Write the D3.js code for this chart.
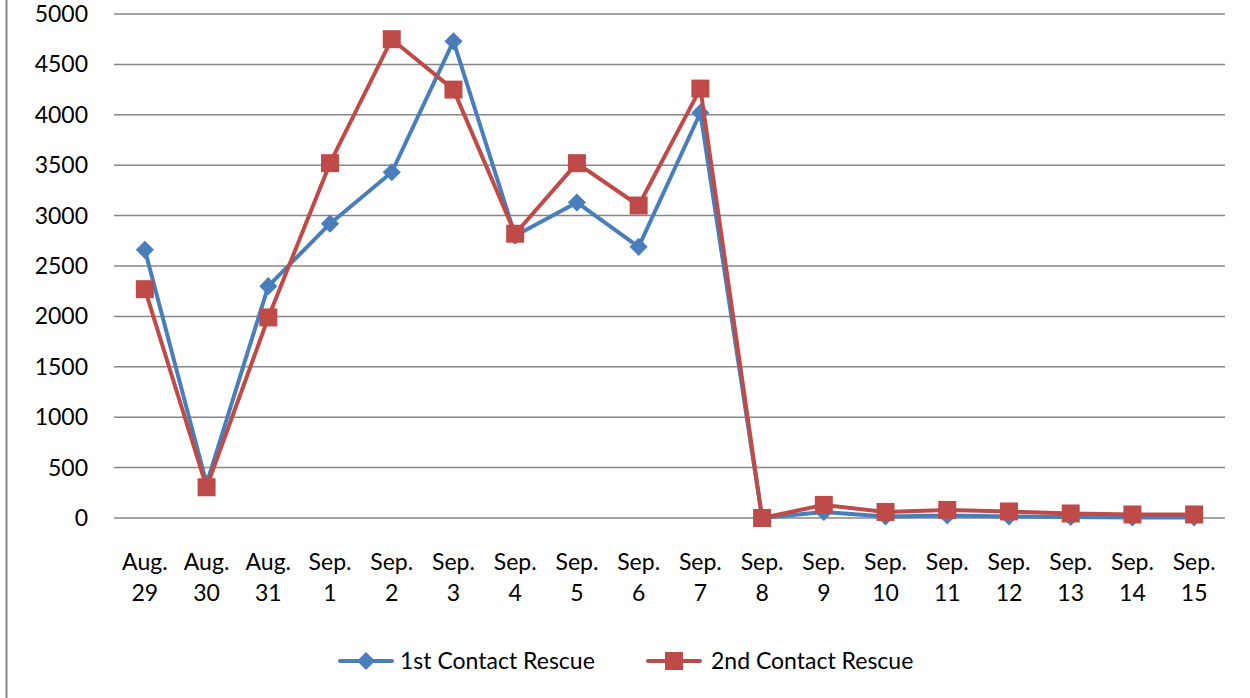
<!DOCTYPE html>
<html>
<head>
<meta charset="UTF-8">
<script src="https://d3js.org/d3.v7.min.js"></script>
<style>
body { margin: 0; background: #fff; }
text { font-family: Lato, "Open Sans", sans-serif; fill: #000; }
</style>
</head>
<body>
<div id="chart"></div>
<script>
// data
var months = ["Aug.", "Aug.", "Aug.", "Sep.", "Sep.", "Sep.", "Sep.", "Sep.", "Sep.", "Sep.", "Sep.", "Sep.", "Sep.", "Sep.", "Sep.", "Sep.", "Sep.", "Sep."];
var days = ["29", "30", "31", "1", "2", "3", "4", "5", "6", "7", "8", "9", "10", "11", "12", "13", "14", "15"];
var firstContact = [2660, 340, 2300, 2920, 3430, 4730, 2800, 3130, 2690, 4020, 0, 60, 15, 25, 15, 10, 5, 5];
var secondContact = [2270, 305, 1990, 3520, 4750, 4250, 2820, 3520, 3100, 4260, 0, 130, 60, 80, 65, 45, 35, 35];
var yTicks = [0, 500, 1000, 1500, 2000, 2500, 3000, 3500, 4000, 4500, 5000];
var seriesNames = ["1st Contact Rescue", "2nd Contact Rescue"];

var W = 1250, H = 698;
var margin = {top: 14, left: 114, right: 25, bottom: 180};
var width = W - margin.left - margin.right;
var height = H - margin.top - margin.bottom;
var fs = "23px";

var svg = d3.select("#chart").append("svg")
    .attr("width", W)
    .attr("height", H);

// left frame edge
svg.append("line")
    .attr("x1", 6.5).attr("x2", 6.5)
    .attr("y1", 0).attr("y2", H)
    .attr("stroke", "#868686").attr("stroke-width", 2);

var g = svg.append("g")
    .attr("transform", "translate(" + margin.left + "," + margin.top + ")");

var x = d3.scaleBand()
    .domain(d3.range(days.length))
    .range([0, width]);

var y = d3.scaleLinear()
    .domain([0, 5000])
    .range([height, 0]);

// gridlines
g.selectAll(".grid")
    .data(yTicks)
    .enter().append("line")
    .attr("x1", 0).attr("x2", width)
    .attr("y1", function(d) { return y(d); })
    .attr("y2", function(d) { return y(d); })
    .attr("stroke", "#868686")
    .attr("stroke-width", 1.5);

// y labels
g.selectAll(".ylab")
    .data(yTicks)
    .enter().append("text")
    .attr("x", -26)
    .attr("y", function(d) { return y(d); })
    .attr("dy", "0.35em")
    .attr("text-anchor", "end")
    .style("font-size", fs)
    .text(function(d) { return d; });

// x labels
var xl = g.selectAll(".xlab")
    .data(days)
    .enter().append("text")
    .attr("text-anchor", "middle")
    .style("font-size", fs)
    .attr("transform", function(d, i) { return "translate(" + (x(i) + x.bandwidth() / 2) + "," + (height + 52) + ")"; });
xl.append("tspan").attr("x", 0).attr("y", 0).text(function(d, i) { return months[i]; });
xl.append("tspan").attr("x", 0).attr("y", 31).text(function(d) { return d; });

var colors = ["#4a7ebb", "#be4b48"];
var line = d3.line()
    .x(function(d, i) { return x(i) + x.bandwidth() / 2; })
    .y(function(d) { return y(d); });

var diamond = d3.symbol().type(d3.symbolDiamond2).size(210);

function drawSeries(vals, k) {
    g.append("path")
        .datum(vals)
        .attr("fill", "none")
        .attr("stroke", colors[k])
        .attr("stroke-width", 4)
        .attr("stroke-linejoin", "round")
        .attr("d", line);
    var m = g.selectAll(".m" + k)
        .data(vals)
        .enter();
    if (k === 0) {
        m.append("path")
            .attr("d", diamond())
            .attr("fill", colors[k])
            .attr("transform", function(d, i) { return "translate(" + (x(i) + x.bandwidth() / 2) + "," + y(d) + ")"; });
    } else {
        m.append("rect")
            .attr("x", function(d, i) { return x(i) + x.bandwidth() / 2 - 9; })
            .attr("y", function(d) { return y(d) - 9; })
            .attr("width", 18).attr("height", 18)
            .attr("fill", colors[k]);
    }
}
drawSeries(firstContact, 0);
drawSeries(secondContact, 1);

// legend
var legendX = [340, 648];
var lg = svg.selectAll(".legend")
    .data(seriesNames)
    .enter().append("g")
    .attr("transform", function(d, i) { return "translate(" + legendX[i] + ",661)"; });
lg.append("line")
    .attr("x1", 0).attr("x2", 52)
    .attr("stroke", function(d, i) { return colors[i]; })
    .attr("stroke-width", 4)
    .attr("stroke-linecap", "round");
lg.each(function(d, i) {
    var s = d3.select(this);
    if (i === 0) {
        s.append("path").attr("d", diamond()).attr("fill", colors[0]).attr("transform", "translate(26,0)");
    } else {
        s.append("rect").attr("x", 17).attr("y", -9).attr("width", 18).attr("height", 18).attr("fill", colors[1]);
    }
});
lg.append("text")
    .attr("x", function(d, i) { return i === 0 ? 60 : 63; })
    .attr("dy", "0.35em")
    .style("font-size", fs)
    .text(function(d) { return d; });
</script>
</body>
</html>
